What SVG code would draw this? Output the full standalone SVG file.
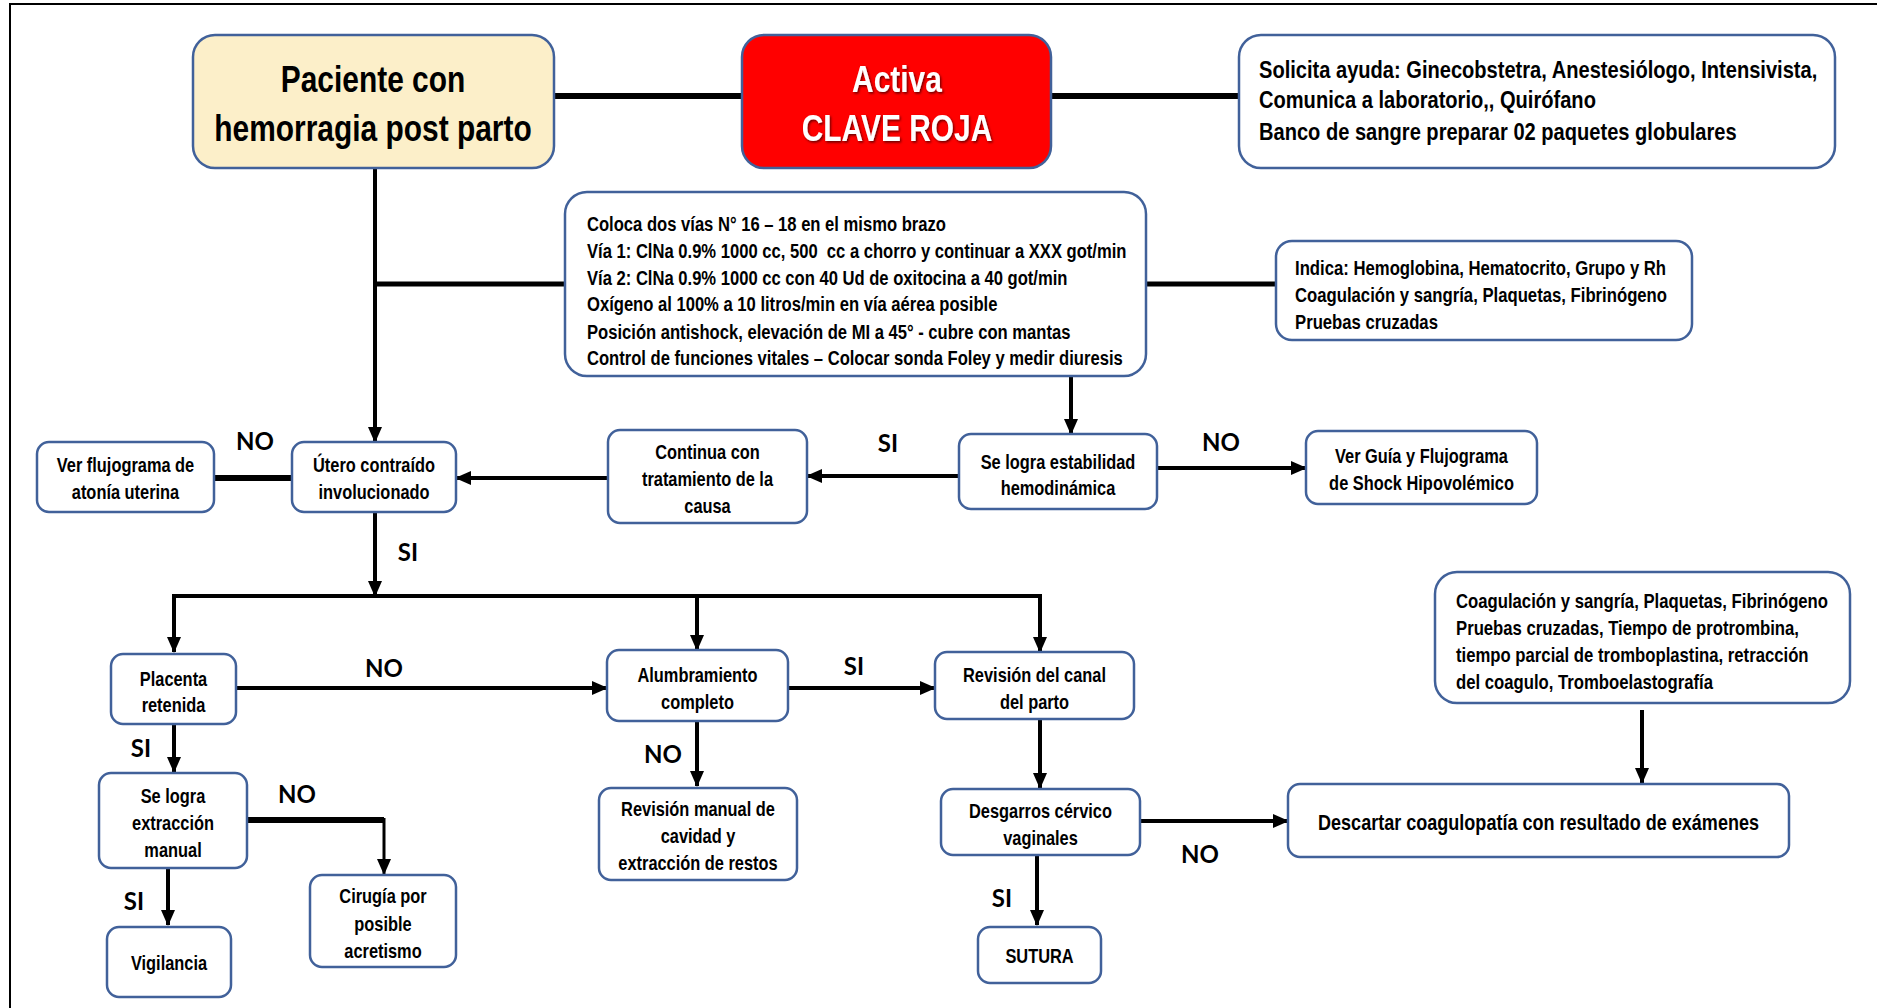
<svg xmlns="http://www.w3.org/2000/svg" width="1877" height="1008" viewBox="0 0 1877 1008">
<style>
.t{font-family:"Liberation Sans",Arial,sans-serif;font-weight:bold;fill:#000;}
.c{text-anchor:middle;}
.s20{font-size:20px;}
.s205{font-size:20.5px;}
.box{fill:#fff;stroke:#41619A;stroke-width:2.5;}
.lbl{font-family:Lato,"Open Sans",sans-serif;font-weight:bold;font-size:24px;text-anchor:middle;fill:#000;}
.ln{fill:none;stroke:#000;stroke-width:4;}
.arr{marker-end:url(#ah);}
.wt{fill:#fff;}
</style>
<defs>
<marker id="ah" markerUnits="userSpaceOnUse" markerWidth="16" markerHeight="14" viewBox="0 0 16 14" refX="15" refY="7" orient="auto">
<path d="M0,0 L16,7 L0,14 z" fill="#000"/>
</marker>
<filter id="sh" x="-10%" y="-10%" width="130%" height="140%">
<feDropShadow dx="1.5" dy="1.5" stdDeviation="1" flood-color="#000" flood-opacity="0.6"/>
</filter>
</defs>
<rect width="1877" height="1008" fill="#fff"/>
<path d="M10,1008 V4 H1877" fill="none" stroke="#000" stroke-width="2"/>

<g id="connectors">
<line class="ln" x1="554" y1="96" x2="742" y2="96" style="stroke-width:6"/>
<line class="ln" x1="1051" y1="96" x2="1239" y2="96" style="stroke-width:6"/>
<line class="ln arr" x1="375" y1="168" x2="375" y2="442"/>
<line class="ln" x1="375" y1="284" x2="565" y2="284" style="stroke-width:5"/>
<line class="ln" x1="1146" y1="284" x2="1276" y2="284" style="stroke-width:5"/>
<line class="ln arr" x1="1071" y1="376" x2="1071" y2="434"/>
<line class="ln arr" x1="959" y1="476" x2="807" y2="476"/>
<line class="ln arr" x1="1157" y1="468" x2="1306" y2="468"/>
<line class="ln arr" x1="608" y1="478" x2="456" y2="478"/>
<line class="ln" x1="292" y1="478" x2="214" y2="478" style="stroke-width:6"/>
<line class="ln arr" x1="375" y1="512" x2="375" y2="596"/>
<line class="ln" x1="172" y1="596" x2="1042" y2="596"/>
<line class="ln arr" x1="174" y1="596" x2="174" y2="652"/>
<line class="ln arr" x1="697" y1="596" x2="697" y2="650"/>
<line class="ln arr" x1="1040" y1="596" x2="1040" y2="652"/>
<line class="ln arr" x1="236" y1="688" x2="607" y2="688"/>
<line class="ln arr" x1="788" y1="688" x2="935" y2="688"/>
<line class="ln arr" x1="174" y1="724" x2="174" y2="772"/>
<path class="ln" d="M247,820 H384" style="stroke-width:6"/>
<line class="ln arr" x1="384" y1="818" x2="384" y2="874" style="stroke-width:3"/>
<line class="ln arr" x1="168" y1="868" x2="168" y2="925"/>
<line class="ln arr" x1="697" y1="721" x2="697" y2="786"/>
<line class="ln arr" x1="1040" y1="719" x2="1040" y2="788"/>
<line class="ln arr" x1="1037" y1="855" x2="1037" y2="925"/>
<line class="ln arr" x1="1140" y1="821" x2="1288" y2="821"/>
<line class="ln arr" x1="1642" y1="710" x2="1642" y2="783"/>
</g>

<g id="labels">
<text class="lbl" x="255" y="450">NO</text>
<text class="lbl" x="888" y="452">SI</text>
<text class="lbl" x="1221" y="451">NO</text>
<text class="lbl" x="408" y="561">SI</text>
<text class="lbl" x="384" y="677">NO</text>
<text class="lbl" x="854" y="675">SI</text>
<text class="lbl" x="141" y="757">SI</text>
<text class="lbl" x="297" y="803">NO</text>
<text class="lbl" x="134" y="910">SI</text>
<text class="lbl" x="663" y="763">NO</text>
<text class="lbl" x="1002" y="907">SI</text>
<text class="lbl" x="1200" y="863">NO</text>
</g>

<g id="n-paciente">
<rect x="193" y="35" width="361" height="133" rx="22" fill="#FCEFC9" stroke="#41619A" stroke-width="2.5"/>
<g class="t c" font-size="36.5" transform="translate(373 0) scale(.82 1)">
<text y="92">Paciente con</text>
<text y="141">hemorragia post parto</text>
</g>
</g>

<g id="n-clave">
<rect x="742" y="35" width="309" height="133" rx="22" fill="#FF0000" stroke="#41619A" stroke-width="2.5"/>
<g class="t c" font-size="36.5" transform="translate(897 0) scale(.82 1)" filter="url(#sh)">
<text class="wt" y="92">Activa</text>
<text class="wt" y="141">CLAVE ROJA</text>
</g>
</g>

<g id="n-solicita">
<rect class="box" x="1239" y="35" width="596" height="133" rx="22"/>
<g class="t" font-size="24.5" transform="translate(1259 0) scale(.82 1)">
<text y="78">Solicita ayuda: Ginecobstetra, Anestesiólogo, Intensivista,</text>
<text y="108">Comunica a laboratorio,, Quirófano</text>
<text y="140">Banco de sangre preparar 02 paquetes globulares</text>
</g>
</g>

<g id="n-vias">
<rect class="box" x="565" y="192" width="581" height="184" rx="22"/>
<g class="t s205" transform="translate(587 0) scale(.81 1)">
<text y="231">Coloca dos vías N° 16 – 18 en el mismo brazo</text>
<text y="258" xml:space="preserve" style="white-space:pre">Vía 1: ClNa 0.9% 1000 cc, 500  cc a chorro y continuar a XXX got/min</text>
<text y="285">Vía 2: ClNa 0.9% 1000 cc con 40 Ud de oxitocina a 40 got/min</text>
<text y="311">Oxígeno al 100% a 10 litros/min en vía aérea posible</text>
<text y="339">Posición antishock, elevación de MI a 45° - cubre con mantas</text>
<text y="365">Control de funciones vitales – Colocar sonda Foley y medir diuresis</text>
</g>
</g>

<g id="n-indica">
<rect class="box" x="1276" y="241" width="416" height="99" rx="16"/>
<g class="t s205" transform="translate(1295 0) scale(.815 1)">
<text y="275">Indica: Hemoglobina, Hematocrito, Grupo y Rh</text>
<text y="302">Coagulación y sangría, Plaquetas, Fibrinógeno</text>
<text y="329">Pruebas cruzadas</text>
</g>
</g>

<g id="n-utero">
<rect class="box" x="292" y="442" width="164" height="70" rx="12"/>
<g class="t c s20" transform="translate(374 0) scale(.82 1)">
<text y="472">Útero contraído</text>
<text y="499">involucionado</text>
</g>
</g>

<g id="n-atonia">
<rect class="box" x="37" y="442" width="177" height="70" rx="12"/>
<g class="t c s20" transform="translate(125.5 0) scale(.82 1)">
<text y="472">Ver flujograma de</text>
<text y="499">atonía uterina</text>
</g>
</g>

<g id="n-continua">
<rect class="box" x="608" y="430" width="199" height="93" rx="12"/>
<g class="t c s20" transform="translate(707.5 0) scale(.82 1)">
<text y="459">Continua con</text>
<text y="486">tratamiento de la</text>
<text y="513">causa</text>
</g>
</g>

<g id="n-estabilidad">
<rect class="box" x="959" y="434" width="198" height="75" rx="12"/>
<g class="t c s20" transform="translate(1058 0) scale(.82 1)">
<text y="469">Se logra estabilidad</text>
<text y="495">hemodinámica</text>
</g>
</g>

<g id="n-shock">
<rect class="box" x="1306" y="431" width="231" height="73" rx="12"/>
<g class="t c s20" transform="translate(1421.5 0) scale(.82 1)">
<text y="463">Ver Guía y Flujograma</text>
<text y="490">de Shock Hipovolémico</text>
</g>
</g>

<g id="n-placenta">
<rect class="box" x="111" y="654" width="125" height="70" rx="12"/>
<g class="t c s20" transform="translate(173.5 0) scale(.82 1)">
<text y="686">Placenta</text>
<text y="712">retenida</text>
</g>
</g>

<g id="n-alumbramiento">
<rect class="box" x="607" y="650" width="181" height="71" rx="12"/>
<g class="t c s20" transform="translate(697.5 0) scale(.82 1)">
<text y="682">Alumbramiento</text>
<text y="709">completo</text>
</g>
</g>

<g id="n-canal">
<rect class="box" x="935" y="652" width="199" height="67" rx="12"/>
<g class="t c s20" transform="translate(1034.5 0) scale(.82 1)">
<text y="682">Revisión del canal</text>
<text y="709">del parto</text>
</g>
</g>

<g id="n-extraccion">
<rect class="box" x="99" y="773" width="148" height="95" rx="12"/>
<g class="t c s20" transform="translate(173 0) scale(.82 1)">
<text y="803">Se logra</text>
<text y="830">extracción</text>
<text y="857">manual</text>
</g>
</g>

<g id="n-vigilancia">
<rect class="box" x="107" y="927" width="124" height="70" rx="12"/>
<g class="t c s20" transform="translate(169 0) scale(.82 1)">
<text y="970">Vigilancia</text>
</g>
</g>

<g id="n-cirugia">
<rect class="box" x="310" y="875" width="146" height="92" rx="12"/>
<g class="t c s20" transform="translate(383 0) scale(.82 1)">
<text y="903">Cirugía por</text>
<text y="931">posible</text>
<text y="958">acretismo</text>
</g>
</g>

<g id="n-manual">
<rect class="box" x="599" y="788" width="198" height="92" rx="12"/>
<g class="t c s20" transform="translate(698 0) scale(.82 1)">
<text y="816">Revisión manual de</text>
<text y="843">cavidad y</text>
<text y="870">extracción de restos</text>
</g>
</g>

<g id="n-desgarros">
<rect class="box" x="941" y="789" width="199" height="66" rx="12"/>
<g class="t c s20" transform="translate(1040.5 0) scale(.82 1)">
<text y="818">Desgarros cérvico</text>
<text y="845">vaginales</text>
</g>
</g>

<g id="n-sutura">
<rect class="box" x="978" y="927" width="123" height="56" rx="12"/>
<g class="t c s20" transform="translate(1039.5 0) scale(.82 1)">
<text y="963">SUTURA</text>
</g>
</g>

<g id="n-descartar">
<rect class="box" x="1288" y="784" width="501" height="73" rx="12"/>
<g class="t c" font-size="22" transform="translate(1538.5 0) scale(.82 1)">
<text y="830">Descartar coagulopatía con resultado de exámenes</text>
</g>
</g>

<g id="n-coagulacion">
<rect class="box" x="1435" y="572" width="415" height="131" rx="22"/>
<g class="t s205" transform="translate(1456 0) scale(.815 1)">
<text y="608">Coagulación y sangría, Plaquetas, Fibrinógeno</text>
<text y="635">Pruebas cruzadas, Tiempo de protrombina,</text>
<text y="662">tiempo parcial de tromboplastina, retracción</text>
<text y="689">del coagulo, Tromboelastografía</text>
</g>
</g>
</svg>
